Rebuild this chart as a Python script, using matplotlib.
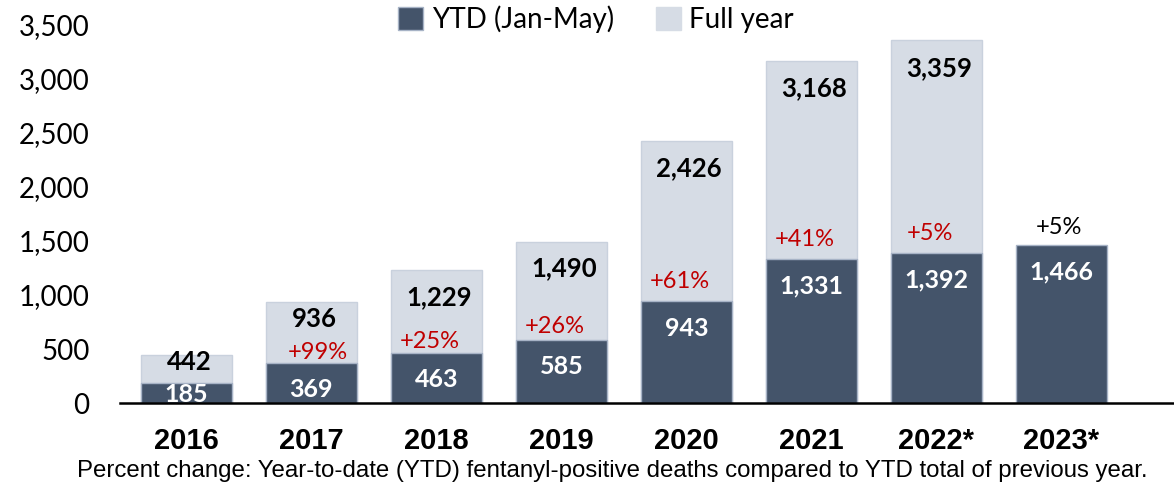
import matplotlib.pyplot as plt
from matplotlib.patches import Patch

years = ["2016", "2017", "2018", "2019", "2020", "2021", "2022*", "2023*"]
ytd = [185, 369, 463, 585, 943, 1331, 1392, 1466]
full_year = [442, 936, 1229, 1490, 2426, 3168, 3359, None]
pct_change = [None, "+99%", "+25%", "+26%", "+61%", "+41%", "+5%", "+5%"]

DARK = "#44546A"
LIGHT = "#D6DCE5"
RED = "#C00000"

# label offsets relative to bar tops (points)
full_drop = [4.5, 12.5, 19, 19, 19.5, 20, 20]
ytd_drop = [8, 19, 19, 19, 19.5, 19.5, 19.5, 19.5]
pct_rise = [0, 8, 8.5, 9.5, 14.5, 14, 14, 12.5]

fig = plt.figure(figsize=(11.74, 4.87), dpi=100)
ax = fig.add_axes([120 / 1174, 84 / 487, 1 - 120 / 1174, 378 / 487])

x = list(range(len(years)))
w = 0.73
fx = [i for i, v in enumerate(full_year) if v is not None]
fv = [v for v in full_year if v is not None]
ax.bar(fx, fv, width=w, color=LIGHT, edgecolor="#C9D1DD", linewidth=1, zorder=2)
ax.bar(x, ytd, width=w, color=DARK, edgecolor="#A7B3C6", linewidth=1, zorder=3)

for i, v in enumerate(full_year):
    if v is None:
        continue
    ax.annotate(f"{v:,}", (i, v), xytext=(2, -full_drop[i]), textcoords="offset points",
                ha="center", va="center", fontsize=18.5, fontweight="bold",
                family="Lato", color="black", zorder=5)

for i, v in enumerate(ytd):
    ax.annotate(f"{v:,}", (i, v), xytext=(0, -ytd_drop[i]), textcoords="offset points",
                ha="center", va="center", fontsize=18, fontweight="bold",
                family="Lato", color="white", zorder=5)
    p = pct_change[i]
    if p:
        col = "black" if full_year[i] is None else RED
        dx = 5 if i == 1 else (-2 if col == "black" else -5)
        ax.annotate(p, (i, v), xytext=(dx, pct_rise[i]), textcoords="offset points",
                    ha="center", va="center", fontsize=17, family="Lato",
                    color=col, zorder=5)

ax.set_xlim(-0.53, 7.9)
ax.set_ylim(0, 3500)
ax.set_yticks(range(0, 3501, 500))
ax.set_yticklabels([f"{t:,}" for t in range(0, 3501, 500)], family="Lato", fontsize=20)
ax.set_xticks(x)
ax.set_xticklabels(years, family="Liberation Sans", fontsize=21, fontweight="bold")
ax.tick_params(axis="y", length=0, pad=22)
ax.tick_params(axis="x", length=0, pad=17)
for s in ["top", "right", "left"]:
    ax.spines[s].set_visible(False)
ax.spines["bottom"].set_linewidth(1.8)
ax.spines["bottom"].set_zorder(6)

handles = [Patch(facecolor=DARK, edgecolor="#A7B3C6", label="YTD (Jan-May)"),
           Patch(facecolor=LIGHT, edgecolor=LIGHT, label="Full year")]
fig.legend(handles=handles, loc="center", bbox_to_anchor=(596 / 1174, 1 - 19 / 487),
           ncol=2, frameon=False, prop={"family": "Lato", "size": 20},
           handlelength=0.9, handleheight=0.9, handletextpad=0.3, columnspacing=1.5)

fig.text(612 / 1174, 1 - 471 / 487,
         "Percent change: Year-to-date (YTD) fentanyl-positive deaths compared to YTD total of previous year.",
         ha="center", va="center", family="Liberation Sans", fontsize=17.3)

fig.savefig("out.png", dpi=100)
